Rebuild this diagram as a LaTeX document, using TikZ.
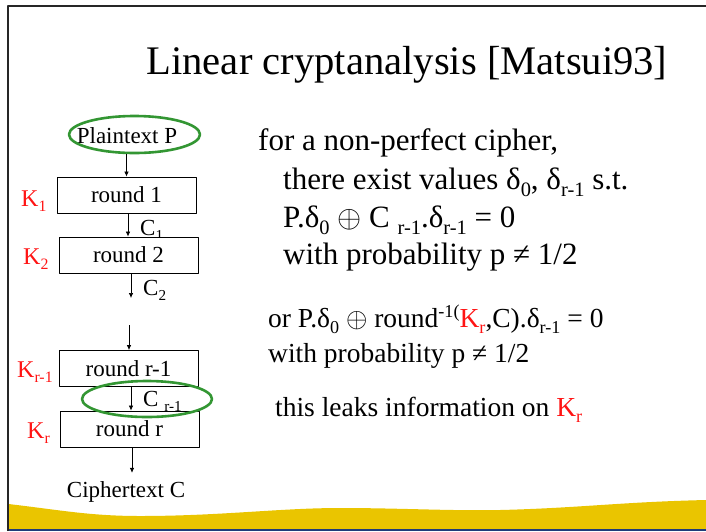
\RequirePackage{fix-cm}
\documentclass[tikz,border=0pt]{standalone}
\usepackage{fontspec}
\setmainfont{Liberation Serif}
\usepackage{graphicx}
\usetikzlibrary{positioning,arrows.meta,shapes.geometric}
\definecolor{ringgreen}{RGB}{51,150,51}
\definecolor{slideyellow}{RGB}{234,197,0}
\definecolor{slidenavy}{RGB}{31,61,122}
\definecolor{keyred}{RGB}{255,20,20}
\newcommand{\lo}[1]{\raisebox{-0.24em}{\scalebox{0.66}{#1}}}
\newcommand{\hi}[1]{\raisebox{0.36em}{\scalebox{0.66}{#1}}}
\newcommand{\xor}{$\oplus$}

\begin{document}
\begin{tikzpicture}[x=1pt,y=-1pt,line join=round,
  roundbox/.style={draw,fill=white,line width=0.9pt,minimum width=139pt,minimum height=36pt,inner sep=0pt,font=\fontsize{23}{27}\selectfont},
  flow/.style={-{Latex[length=5pt,width=4.5pt]},line width=0.7pt},
  keylabel/.style={anchor=base west,inner sep=0pt,text=keyred,font=\fontsize{24}{28}\selectfont},
  clabel/.style={anchor=base west,inner sep=0pt,font=\fontsize{23}{27}\selectfont},
  ring/.style={draw=ringgreen,ellipse,line width=2.6pt,inner sep=0pt},
  bodyline/.style={anchor=base west,inner sep=0pt,font=\fontsize{31}{37}\selectfont},
  noteline/.style={anchor=base west,inner sep=0pt,font=\fontsize{27.5}{33}\selectfont}]
  \useasboundingbox (0,0) rectangle (706,531);
  % slide frame and footer wave
  \fill[slideyellow] (8.5,504) .. controls (60,510) and (90,516) .. (140,516)
    .. controls (220,516) and (280,508) .. (340,508)
    .. controls (400,508) and (450,511) .. (500,510)
    .. controls (580,508) and (620,502) .. (706,500) -- (706,529) -- (8.5,529) -- cycle;
  \fill[slidenavy] (6.5,528.5) rectangle (706,531);
  \draw[black!85,line width=2pt] (7.5,531) -- (7.5,5.5) -- (706,5.5);
  \node[anchor=base,inner sep=0pt,font=\fontsize{40.6}{48}\selectfont] (title) at (407,74) {Linear cryptanalysis [Matsui93]};
  % right hand text
  \node[bodyline] (line1) at (258,150) {for a non-perfect cipher,};
  \node[bodyline] (line2) at (283,189) {there exist values δ\lo{0}, δ\lo{r-1} s.t.};
  \node[bodyline] (line3) at (283,227) {P.δ\lo{0} \xor{} C \lo{r-1}.δ\lo{r-1} = 0};
  \node[bodyline] (line4) at (283,264) {with probability p ≠ 1/2};
  \node[noteline] (note1) at (268,327) {or P.δ\lo{0} \xor{} round\hi{-1(}\textcolor{keyred}{K\lo{r}},C).δ\lo{r-1} = 0};
  \node[noteline] (note2) at (268,362) {with probability p ≠ 1/2};
  \node[noteline] (leak) at (275,416) {this leaks information on \textcolor{keyred}{K\lo{r}}};
  % rounds
  \node[clabel] (c1) at (140,235) {C\lo{1}};
  \node[clabel] (c2) at (143,295) {C\lo{2}};
  \node[clabel] (crr) at (143,406) {C \lo{r-1}};
  \node[keylabel] (k1) at (21,206) {K\lo{1}};
  \node[keylabel] (k2) at (23,264) {K\lo{2}};
  \node[keylabel] (krr) at (17,377) {K\lo{r-1}};
  \node[keylabel] (kr) at (27,438) {K\lo{r}};
  \node[roundbox] (r1) at (126.5,195) {round 1};
  \node[roundbox] (r2) at (128.5,255) {round 2};
  \node[roundbox] (rr1) at (128.5,368.5) {round r-1};
  \node[roundbox] (rr) at (129.5,429) {round r};
  \node[clabel,anchor=base] (ptext) at (127,143) {Plaintext P};
  \node[clabel,anchor=base,inner ysep=8pt] (cipher) at (126,497) {Ciphertext C};
  \node[ring,minimum width=131pt,minimum height=37pt] (ring1) at (134.5,134.5) {};
  \node[ring,minimum width=130pt,minimum height=36pt] (ring2) at (147,399) {};
  \coordinate (gapend) at (131,298);
  \coordinate (gapstart) at (129,325);
  \draw[flow] (r1.north |- ring1.south) -- (r1.north);
  \draw[flow] ([xshift=1.5pt]r1.south) -- ([xshift=1.5pt]r1.south |- r2.north);
  \draw[flow] (r2.south -| gapend) -- (gapend);
  \draw[flow] (gapstart) -- (gapstart |- rr1.north);
  \draw[flow] ([xshift=2.5pt]rr1.south) -- ([xshift=2.5pt]rr1.south |- rr.north);
  \draw[flow] ([xshift=2.5pt]rr.south) -- ([xshift=2.5pt]rr.south |- cipher.north);
\end{tikzpicture}
\end{document}
